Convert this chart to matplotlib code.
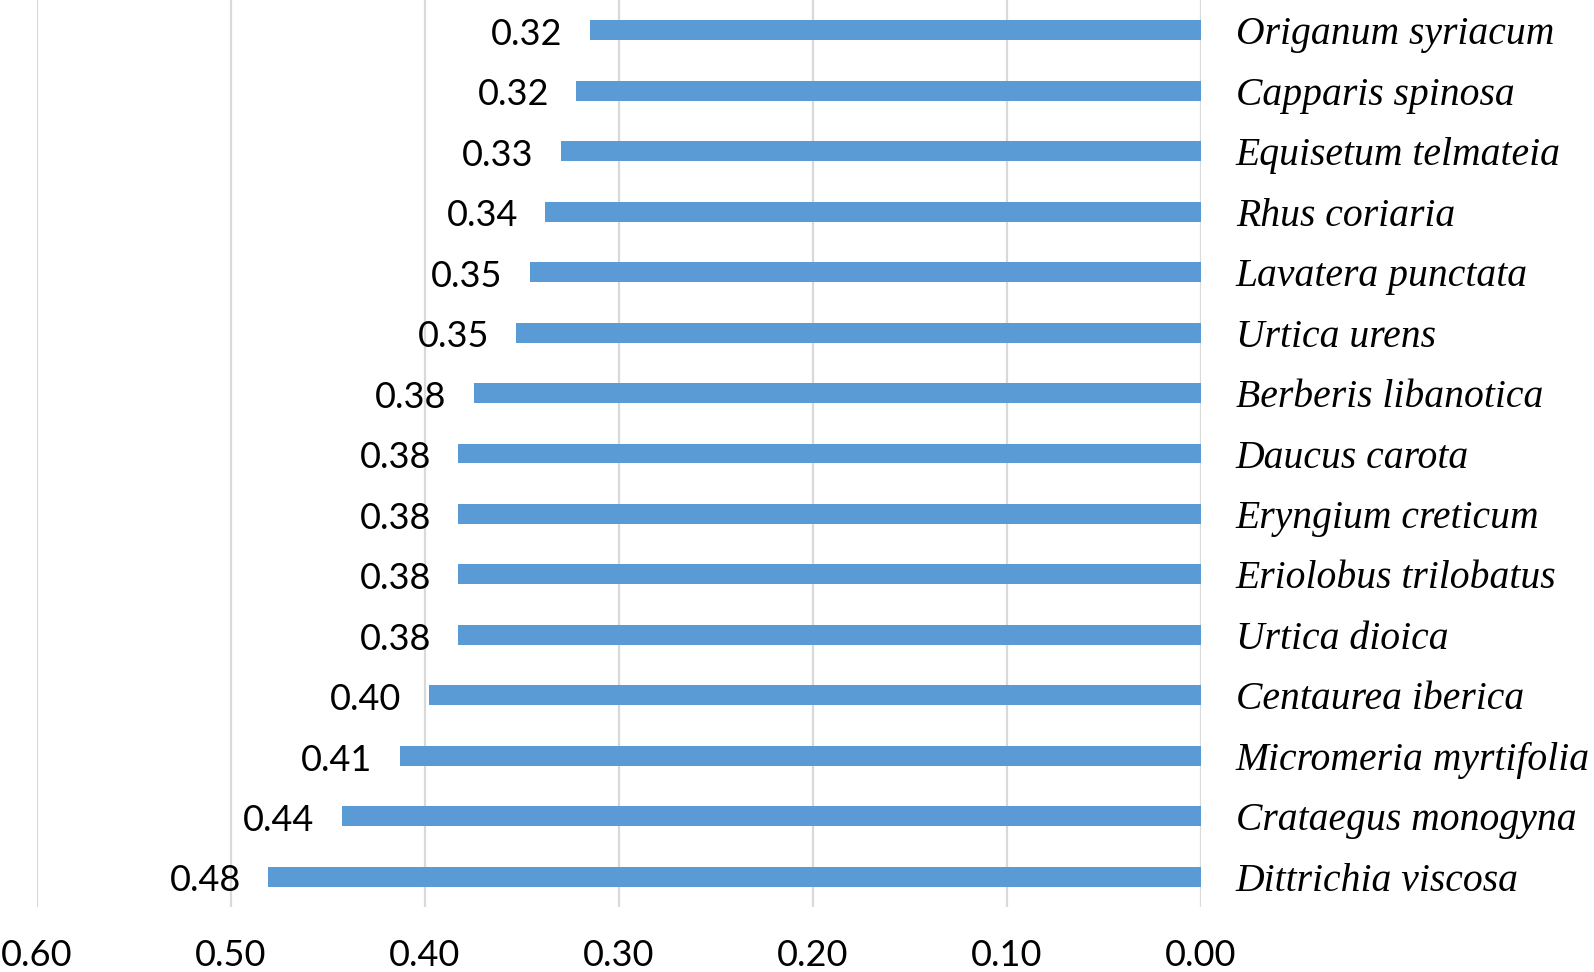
import matplotlib.pyplot as plt

# Données
especes = ["Origanum syriacum", "Capparis spinosa", "Equisetum telmateia", "Rhus coriaria",
           "Lavatera punctata", "Urtica urens", "Berberis libanotica", "Daucus carota",
           "Eryngium creticum", "Eriolobus trilobatus", "Urtica dioica", "Centaurea iberica",
           "Micromeria myrtifolia", "Crataegus monogyna", "Dittrichia viscosa"]
valeurs = [0.315, 0.322, 0.330, 0.338, 0.346, 0.353, 0.375, 0.383,
           0.383, 0.383, 0.383, 0.398, 0.413, 0.443, 0.481]
etiquettes = ["0.32", "0.32", "0.33", "0.34", "0.35", "0.35", "0.38", "0.38",
              "0.38", "0.38", "0.38", "0.40", "0.41", "0.44", "0.48"]
ticks_x = [0.6, 0.5, 0.4, 0.3, 0.2, 0.1, 0.0]

fig = plt.figure(figsize=(15.94, 9.72), dpi=100)
ax = fig.add_axes([37 / 1594, 65 / 972, (1201 - 37) / 1594, 907 / 972])

pos = list(range(len(especes)))
ax.barh(pos, valeurs, height=0.33, color="#5B9BD5", zorder=3)

# Valeurs à gauche des barres
for y, v, lab in zip(pos, valeurs, etiquettes):
    ax.text(v + 0.014, y + 0.02, lab, ha="right", va="center_baseline", fontsize=26,
            family="Lato", color="black")

ax.set_xlim(0.6, 0.0)
ax.set_ylim(len(especes) - 0.5, -0.5)
ax.set_xticks(ticks_x)
ax.set_xticklabels([f"{t:.2f}" for t in ticks_x], fontsize=26, family="Lato")
ax.tick_params(axis="x", length=0, pad=23)

ax.set_yticks(pos)
ax.set_yticklabels(especes, fontsize=28.5, family="Liberation Serif", style="italic")
ax.yaxis.tick_right()
ax.tick_params(axis="y", length=0, pad=25)

ax.grid(axis="x", color="#d9d9d9", linewidth=1.6, zorder=0)
for s in ax.spines.values():
    s.set_visible(False)

fig.savefig("out.png", dpi=100)
